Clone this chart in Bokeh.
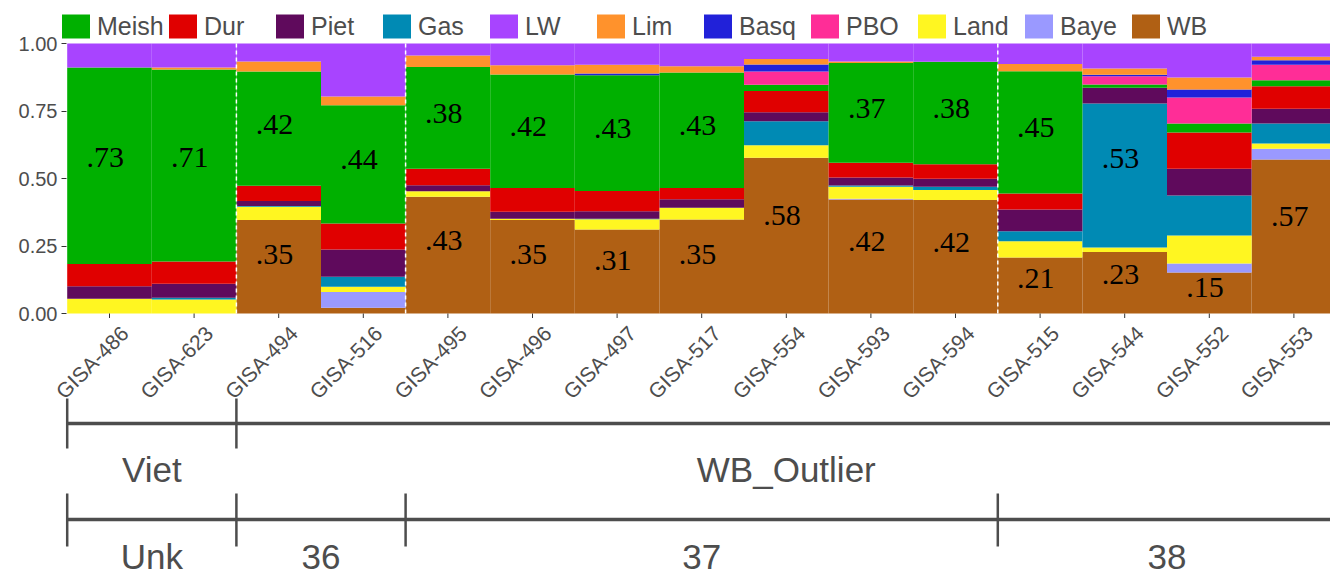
import math
from bokeh.plotting import figure
from bokeh.models import (ColumnDataSource, Range1d, Legend, LegendItem,
                          FixedTicker, NumeralTickFormatter)
from bokeh.embed import file_html
from bokeh.resources import INLINE
from bokeh.core.properties import value

samples = ["GISA-486", "GISA-623", "GISA-494", "GISA-516", "GISA-495", "GISA-496",
           "GISA-497", "GISA-517", "GISA-554", "GISA-593", "GISA-594", "GISA-515",
           "GISA-544", "GISA-552", "GISA-553"]

WB    = [0.000, 0.000, 0.346, 0.021, 0.432, 0.346, 0.311, 0.348, 0.577, 0.422, 0.420, 0.207, 0.228, 0.152, 0.570]
Baye  = [0.000, 0.000, 0.000, 0.059, 0.000, 0.000, 0.000, 0.000, 0.000, 0.003, 0.000, 0.000, 0.000, 0.033, 0.040]
Land  = [0.055, 0.052, 0.049, 0.019, 0.021, 0.005, 0.038, 0.044, 0.046, 0.044, 0.037, 0.061, 0.016, 0.104, 0.020]
Gas   = [0.000, 0.006, 0.003, 0.037, 0.000, 0.000, 0.002, 0.000, 0.089, 0.005, 0.012, 0.037, 0.534, 0.148, 0.074]
Piet  = [0.046, 0.052, 0.019, 0.101, 0.022, 0.026, 0.028, 0.031, 0.033, 0.030, 0.030, 0.080, 0.058, 0.099, 0.054]
Dur   = [0.082, 0.083, 0.056, 0.096, 0.061, 0.088, 0.075, 0.042, 0.079, 0.054, 0.054, 0.059, 0.000, 0.134, 0.084]
Meish = [0.728, 0.711, 0.423, 0.438, 0.377, 0.420, 0.428, 0.428, 0.023, 0.370, 0.379, 0.453, 0.012, 0.034, 0.022]
PBO   = [0.000, 0.000, 0.000, 0.000, 0.000, 0.000, 0.000, 0.000, 0.049, 0.000, 0.000, 0.000, 0.031, 0.096, 0.057]
Basq  = [0.000, 0.000, 0.000, 0.000, 0.000, 0.000, 0.007, 0.000, 0.026, 0.000, 0.000, 0.000, 0.005, 0.030, 0.017]
Lim   = [0.000, 0.007, 0.037, 0.033, 0.043, 0.034, 0.032, 0.023, 0.021, 0.005, 0.000, 0.027, 0.023, 0.044, 0.013]
LW    = [0.089, 0.089, 0.067, 0.196, 0.044, 0.081, 0.079, 0.084, 0.057, 0.067, 0.068, 0.076, 0.093, 0.126, 0.049]

series = {"WB": WB, "Baye": Baye, "Land": Land, "Gas": Gas, "Piet": Piet, "Dur": Dur,
          "Meish": Meish, "PBO": PBO, "Basq": Basq, "Lim": Lim, "LW": LW}

stack_order = ["WB", "Baye", "Land", "Gas", "Piet", "Dur", "Meish", "PBO", "Basq", "Lim", "LW"]
legend_order = ["Meish", "Dur", "Piet", "Gas", "LW", "Lim", "Basq", "PBO", "Land", "Baye", "WB"]

colors = {"Meish": "#00B000", "Dur": "#E00000", "Piet": "#5F0A5C", "Gas": "#008AB4",
          "LW": "#A844FF", "Lim": "#FF922C", "Basq": "#2121D9", "PBO": "#FF2D97",
          "Land": "#FFF621", "Baye": "#9A99FF", "WB": "#B06014"}

region_names = ["Viet", "WB_Outlier"]
region_sizes = [2, 13]
pop_names = ["Unk", "36", "37", "38"]
pop_sizes = [2, 2, 7, 4]

labelled = ["WB", "Meish", "Gas"]
label_min = 0.15
label_frac = {"WB": 0.63, "Meish": 0.54, "Gas": 0.62}

# ---------- layout constants (figure pixels) ----------
GRAY = "#4d4d4d"
W, H = 1330, 579
AXIS_PX = 62              # pixel x where the y axis sits
Y0_PX, Y1_PX = 313, 43    # pixel y of value 0 and value 1
BAR_PX = 84.6
X0_PX = 66.7              # pixel x of the first bar's left edge


def v(py):
    """pixel y -> data y"""
    return (Y0_PX - py) / (Y0_PX - Y1_PX)


def dx(px):
    return px / BAR_PX


n = len(samples)
xs = [i + 0.5 for i in range(n)]

p = figure(width=W, height=H, output_backend="svg", toolbar_location=None,
           x_range=Range1d(-dx(X0_PX), dx(W - X0_PX)),
           y_range=Range1d(v(H), v(0)),
           x_axis_type=None, min_border_left=0, min_border_right=0,
           min_border_top=0, min_border_bottom=0)
p.outline_line_color = None
p.grid.visible = False
p.background_fill_color = "white"
p.border_fill_color = "white"

data = {"x": xs}
data.update(series)
src = ColumnDataSource(data)
rends = p.vbar_stack(stack_order, x="x", width=1.0, source=src,
                     fill_color=[colors[s] for s in stack_order], line_color=None)
rmap = dict(zip(stack_order, rends))

# white dashed separators between populations
bounds = []
c = 0
for k in pop_sizes[:-1]:
    c += k
    bounds.append(c)
p.segment(x0=bounds, x1=bounds, y0=[0] * len(bounds), y1=[1] * len(bounds),
          line_color="white", line_dash="4 3", line_width=1.5)

# value labels
lx, ly, lt = [], [], []
for i in range(n):
    bottom = 0.0
    for k in stack_order:
        val = series[k][i]
        if k in labelled and val >= label_min:
            lx.append(xs[i] - 0.05)
            ly.append(bottom + val * label_frac[k])
            lt.append(("%.2f" % val)[1:])
        bottom += val
p.text(x="x", y="y", text="t", source=ColumnDataSource(dict(x=lx, y=ly, t=lt)),
       text_font=value("Liberation Serif"), text_font_size="30px",
       text_align="center", text_baseline="middle", text_color="black")

# y axis, pinned at the left edge of the bars
p.yaxis.fixed_location = -dx(X0_PX - AXIS_PX)
p.yaxis.ticker = FixedTicker(ticks=[0, 0.25, 0.5, 0.75, 1.0])
p.yaxis.formatter = NumeralTickFormatter(format="0.00")
p.yaxis.axis_line_color = None
p.yaxis.major_tick_in = 4
p.yaxis.major_tick_out = 1
p.yaxis.minor_tick_line_color = None
p.yaxis.major_tick_line_color = "#333333"
p.yaxis.major_label_text_color = GRAY
p.yaxis.major_label_text_font = "Liberation Sans"
p.yaxis.major_label_text_font_size = "20px"
p.yaxis.major_label_standoff = 4

# x ticks and rotated sample labels
p.segment(x0=xs, x1=xs, y0=[0] * n, y1=[v(Y0_PX + 4.5)] * n,
          line_color="#333333", line_width=1)
p.text(x=[xv + dx(7) for xv in xs], y=[v(Y0_PX + 8)] * n, text=samples,
       angle=math.pi / 4, text_align="right", text_baseline="top",
       text_font=value("Liberation Sans"), text_font_size="21px", text_color=GRAY)

# legend (bottom of legend box at 41 px from the top)
legend = Legend(items=[LegendItem(label=k, renderers=[rmap[k]]) for k in legend_order],
                orientation="horizontal", location=(58, H - 41),
                glyph_width=35, glyph_height=30, label_standoff=4, label_width=68,
                spacing=0, padding=0, margin=0, border_line_color=None,
                background_fill_alpha=0, label_text_font="Liberation Sans",
                label_text_font_size="25px", label_text_color=GRAY)
p.add_layout(legend)


# group brackets
def bracket(names, sizes, y_line, y_top, y_bot, y_text):
    starts, centers = [], []
    c = 0
    for k in sizes:
        starts.append(c)
        centers.append(c + k / 2)
        c += k
    p.segment(x0=[0], x1=[c], y0=[v(y_line)], y1=[v(y_line)], line_color=GRAY, line_width=3.5)
    p.segment(x0=starts, x1=starts, y0=[v(y_top)] * len(starts), y1=[v(y_bot)] * len(starts),
              line_color=GRAY, line_width=2.5)
    p.text(x=centers, y=[v(y_text)] * len(centers), text=names,
           text_font=value("Liberation Sans"), text_font_size="35px", text_color=GRAY,
           text_align="center", text_baseline="middle")


bracket(region_names, region_sizes, 423, 398, 448, 469)
bracket(pop_names, pop_sizes, 519, 493, 546, 556)

open("out.html", "w").write(file_html(p, INLINE))
